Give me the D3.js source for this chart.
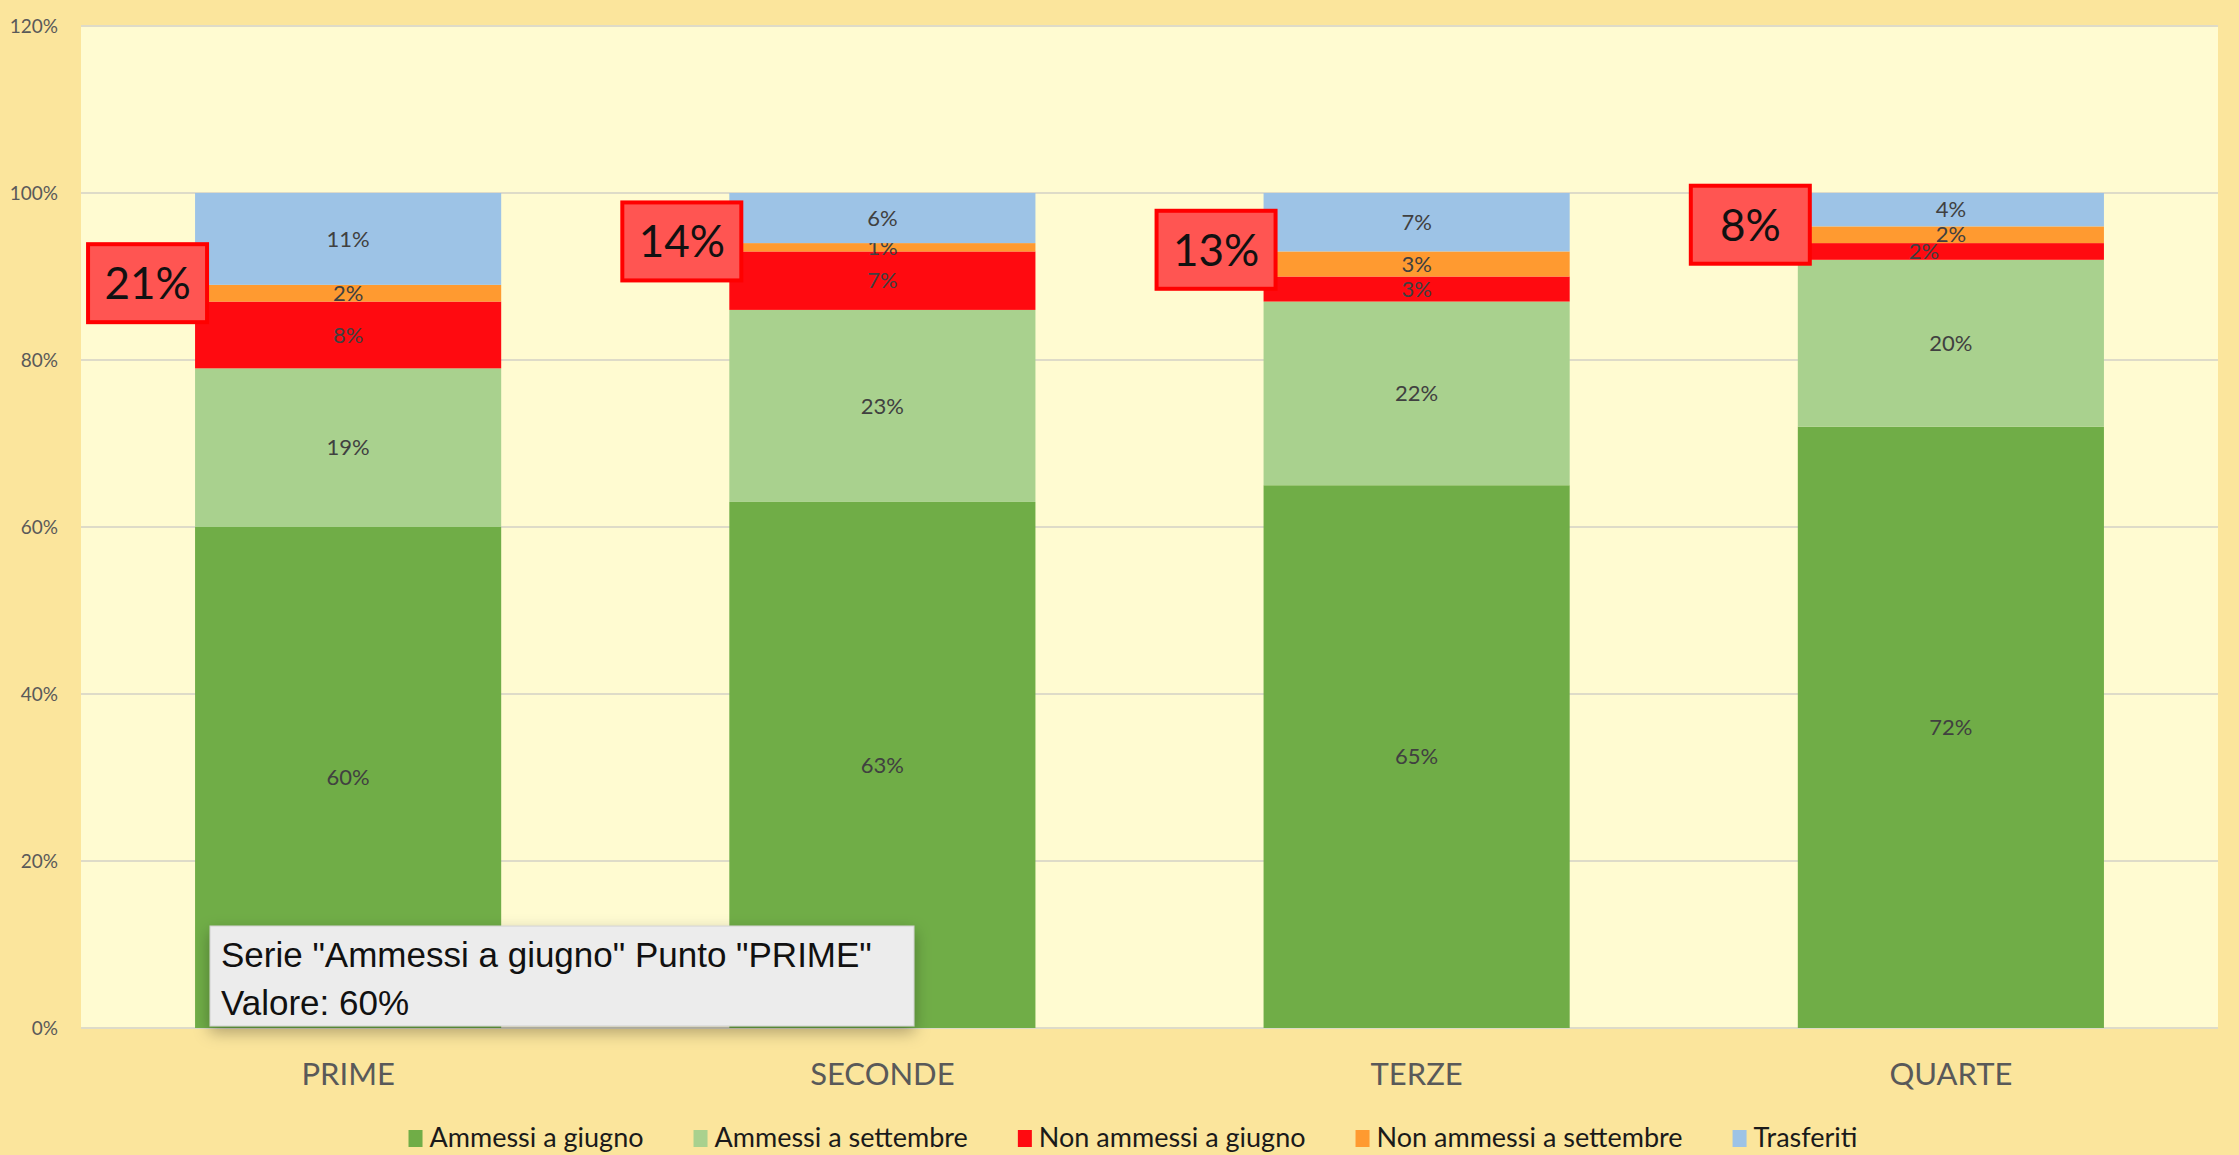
<html>
<style>
body { margin: 0; background: #fbe59c; }
</style>
<svg width="2239" height="1155"></svg>
<script src="https://d3js.org/d3.v7.min.js"></script>
<script>

var categories = ["PRIME", "SECONDE", "TERZE", "QUARTE"];
var seriesNames = ["Ammessi a giugno", "Ammessi a settembre", "Non ammessi a giugno", "Non ammessi a settembre", "Trasferiti"];
var seriesColors = ["#70ad47", "#a9d18e", "#ff0a10", "#ff9a30", "#9dc3e6"];

var ammessiGiugno = [0.60, 0.63, 0.65, 0.72];
var ammessiSettembre = [0.19, 0.23, 0.22, 0.20];
var nonAmmessiGiugno = [0.08, 0.07, 0.03, 0.02];
var nonAmmessiSettembre = [0.02, 0.01, 0.03, 0.02];
var trasferiti = [0.11, 0.06, 0.07, 0.04];

var calloutValues = ["21%", "14%", "13%", "8%"];
var yTicks = [0, 0.2, 0.4, 0.6, 0.8, 1.0, 1.2];

var FONT = "Lato, 'Open Sans', sans-serif";

var svg = d3.select("svg"),
    W = +svg.attr("width"),
    H = +svg.attr("height"),
    plot = {left: 81, right: 2218, top: 26, bottom: 1028};

svg.append("rect").attr("width", W).attr("height", H).attr("fill", "#fbe59c");
svg.append("rect")
    .attr("x", plot.left).attr("y", plot.top)
    .attr("width", plot.right - plot.left).attr("height", plot.bottom - plot.top)
    .attr("fill", "#fffbd1");

var x = d3.scaleBand()
    .domain(categories)
    .range([plot.left, plot.right])
    .paddingInner(0.427)
    .paddingOuter(0.2135);

var y = d3.scaleLinear()
    .domain([0, 1.2])
    .range([plot.bottom, plot.top]);

// gridlines
svg.append("g").selectAll("line")
  .data(yTicks)
  .enter().append("line")
    .attr("x1", plot.left).attr("x2", plot.right)
    .attr("y1", function(d) { return y(d); })
    .attr("y2", function(d) { return y(d); })
    .attr("stroke", "#dedbc8")
    .attr("stroke-width", 2);

// y axis labels
var yAxis = svg.append("g")
    .attr("transform", "translate(" + (plot.left - 13) + ",0)")
    .call(d3.axisLeft(y).tickValues(yTicks).tickFormat(d3.format(".0%")).tickSize(0).tickPadding(10));
yAxis.select(".domain").remove();
yAxis.selectAll("text")
    .style("font-family", FONT)
    .style("font-size", "19px")
    .attr("fill", "#595959");

// stack
var rows = categories.map(function(c, i) {
  return {
    cat: c,
    s0: ammessiGiugno[i], s1: ammessiSettembre[i], s2: nonAmmessiGiugno[i],
    s3: nonAmmessiSettembre[i], s4: trasferiti[i]
  };
});
var keys = ["s0", "s1", "s2", "s3", "s4"];
var stacked = d3.stack().keys(keys)(rows);

var layers = svg.append("g").selectAll("g")
  .data(stacked)
  .enter().append("g")
    .attr("fill", function(d, i) { return seriesColors[i]; });

layers.selectAll("rect")
  .data(function(d) { return d; })
  .enter().append("rect")
    .attr("x", function(d) { return x(d.data.cat); })
    .attr("width", x.bandwidth())
    .attr("y", function(d) { return y(d[1]); })
    .attr("height", function(d) { return y(d[0]) - y(d[1]); });

// labels: nudge a label sideways when it sits too close to the one above (like Excel does)
function labelShift(d, si, i) {
  if (si >= stacked.length - 1) return 0;
  var up = stacked[si + 1][i];
  var gap = y((d[0] + d[1]) / 2) - y((up[0] + up[1]) / 2);
  return gap < 20 ? -27 : 0;
}

layers.each(function(layer, si) {
  d3.select(this).selectAll("text")
    .data(layer)
    .enter().append("text")
      .attr("x", function(d, i) { return x(d.data.cat) + x.bandwidth() / 2 + labelShift(d, si, i); })
      .attr("y", function(d) { return y((d[0] + d[1]) / 2); })
      .attr("dy", "0.35em")
      .attr("text-anchor", "middle")
      .style("font-family", FONT)
      .style("font-size", "22px")
      .attr("fill", "#404040")
      .text(function(d) { return Math.round((d[1] - d[0]) * 100) + "%"; });
});

// callouts
var callouts = svg.append("g").selectAll("g")
  .data(categories)
  .enter().append("g")
    .attr("transform", function(c, i) {
      var top = stacked[3][i][1];
      return "translate(" + (x(c) + 12 - 119) + "," + (y(top + 0.002) - 39) + ")";
    });
callouts.append("rect")
    .attr("width", 119).attr("height", 78)
    .attr("fill", "#ff5552")
    .attr("stroke", "#ff0000")
    .attr("stroke-width", 4);
callouts.append("text")
    .attr("x", 59.5).attr("y", 39)
    .attr("dy", "0.36em")
    .attr("text-anchor", "middle")
    .style("font-family", FONT)
    .style("font-size", "44px")
    .attr("fill", "#111")
    .text(function(c, i) { return calloutValues[i]; });

// x labels
svg.append("g").selectAll("text")
  .data(categories)
  .enter().append("text")
    .attr("x", function(c) { return x(c) + x.bandwidth() / 2; })
    .attr("y", 1074)
    .attr("dy", "0.35em")
    .attr("text-anchor", "middle")
    .style("font-family", FONT)
    .style("font-size", "31px")
    .attr("fill", "#595959")
    .text(function(c) { return c; });

// legend
var legend = svg.append("g");
var lx = 0;
seriesNames.forEach(function(name, i) {
  var item = legend.append("g").attr("transform", "translate(" + lx + ",0)");
  item.append("rect").attr("x", 0).attr("y", -8).attr("width", 14).attr("height", 17).attr("fill", seriesColors[i]);
  var t = item.append("text")
      .attr("x", 21).attr("y", 0).attr("dy", "0.35em")
      .style("font-family", FONT)
      .style("font-size", "27px")
      .attr("fill", "#1a1a1a")
      .text(name);
  lx += 21 + t.node().getComputedTextLength() + 50;
});
lx -= 50;
legend.attr("transform", "translate(" + (1133 - lx / 2) + ",1138)");

// tooltip
var defs = svg.append("defs");
var f = defs.append("filter").attr("id", "shadow").attr("x", "-10%").attr("y", "-20%").attr("width", "120%").attr("height", "160%");
f.append("feDropShadow").attr("dx", 0).attr("dy", 6).attr("stdDeviation", 8).attr("flood-color", "#000").attr("flood-opacity", 0.3);

var tip = svg.append("g").attr("transform", "translate(210,926)");
tip.append("rect")
    .attr("width", 704).attr("height", 100)
    .attr("fill", "#ececec")
    .attr("stroke", "#d0d0d0")
    .attr("stroke-width", 1)
    .attr("filter", "url(#shadow)");
tip.append("text")
    .attr("x", 11).attr("y", 41)
    .style("font-family", "'Liberation Sans', Arial, sans-serif")
    .style("font-size", "35px")
    .attr("fill", "#111")
    .text('Serie "' + seriesNames[0] + '" Punto "' + categories[0] + '"');
tip.append("text")
    .attr("x", 11).attr("y", 89)
    .style("font-family", "'Liberation Sans', Arial, sans-serif")
    .style("font-size", "35px")
    .attr("fill", "#111")
    .text("Valore: " + Math.round(ammessiGiugno[0] * 100) + "%");

</script>
</html>
